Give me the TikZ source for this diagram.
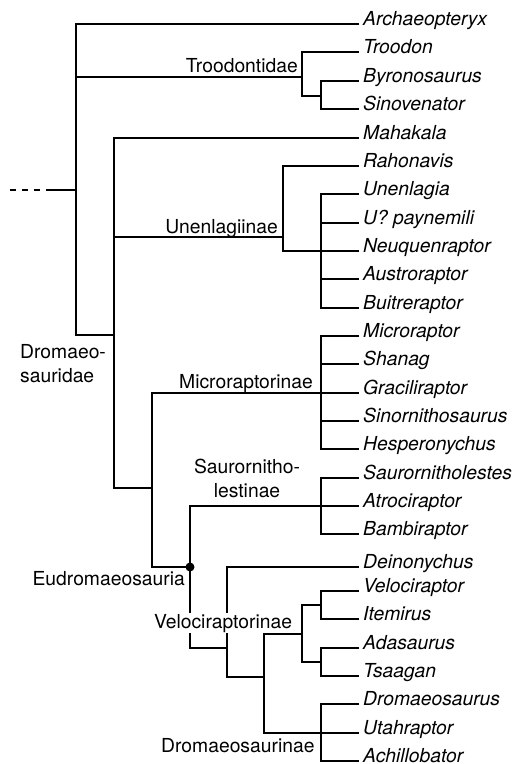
\documentclass[tikz,border=0pt]{standalone}
\usepackage{fontspec}
\setmainfont{TeX Gyre Heros}
\newcommand\fz{\fontsize{19.3pt}{24pt}\selectfont}
\begin{document}
\begin{tikzpicture}[x=1pt,y=-1pt,
  branch/.style={line width=1.7pt, black},
  leaflabel/.style={anchor=base west, inner sep=0pt, text depth=0pt, font=\fz\itshape},
  cladelabel/.style={inner sep=0pt, font=\fz},
  cladebox/.style={inner xsep=1pt, inner ysep=1.2pt, font=\fz, fill=white}]
\useasboundingbox (0,0) rectangle (516,764);
% leaves: tips and labels
\foreach \n/\y/\t in {
  Arch/24/Archaeopteryx, Troo/52/Troodon, Byro/81/Byronosaurus, Sino/109/Sinovenator,
  Maha/138/Mahakala, Raho/166/Rahonavis, Unen/194/Unenlagia, Payn/223/U? paynemili,
  Neuq/251/Neuquenraptor, Aust/279/Austroraptor, Buit/308/Buitreraptor,
  Micr/336/Microraptor, Shan/364/Shanag, Grac/393/Graciliraptor, Sinr/421/Sinornithosaurus,
  Hesp/449/Hesperonychus, Saur/478/Saurornitholestes, Atro/506/Atrociraptor,
  Bamb/534/Bambiraptor, Dein/567/Deinonychus, Velo/591/Velociraptor, Item/619/Itemirus,
  Adas/648/Adasaurus, Tsaa/676/Tsaagan, Drom/704/Dromaeosaurus, Utah/733/Utahraptor,
  Achi/761/Achillobator}{
  \coordinate (t\n) at (359,\y);
  \node[leaflabel] (\n) at (363,\y+1) {\t};
}
% internal nodes
\coordinate (stemA) at (10,190);
\coordinate (stemB) at (40,190);
\coordinate (stemC) at (46,190);
\coordinate (r) at (76,190);
\coordinate (tro) at (302,77);
\coordinate (bs) at (321,96);
\coordinate (dro) at (114,335);
\coordinate (unen) at (283,237);
\coordinate (unp) at (321,251);
\coordinate (eum) at (152,488);
\coordinate (mic) at (321,393);
\coordinate (eud) at (190,567);
\coordinate (sau) at (321,506);
\coordinate (dv) at (227,648);
\coordinate (vdr) at (264,677);
\coordinate (vel) at (302,634);
\coordinate (vi) at (321,605);
\coordinate (at) at (321,662);
\coordinate (drm) at (321,733);
% stem
\draw[branch, dash pattern=on 6pt off 6pt] (stemA) -- (stemB);
\draw[branch] (stemC) -- (r);
% root
\draw[branch] (tArch) -| (r) |- (dro);
\draw[branch] (r) |- (tro);
% Troodontidae
\draw[branch] (tTroo) -| (tro) |- (bs);
\draw[branch] (tByro) -| (bs) |- (tSino);
% Dromaeosauridae
\draw[branch] (tMaha) -| (dro) |- (eum);
\draw[branch] (dro) |- (unen);
% Unenlagiinae
\draw[branch] (tRaho) -| (unen) |- (unp);
\draw[branch] (tUnen) -| (unp) |- (tBuit);
\draw[branch] (unp |- tPayn) -- (tPayn);
\draw[branch] (unp) -- (tNeuq);
\draw[branch] (unp |- tAust) -- (tAust);
% Microraptorinae + Eudromaeosauria
\draw[branch] (mic) -| (eum) |- (eud);
\draw[branch] (tMicr) -| (mic) |- (tHesp);
\draw[branch] (mic |- tShan) -- (tShan);
\draw[branch] (mic) -- (tGrac);
\draw[branch] (mic |- tSinr) -- (tSinr);
% Eudromaeosauria
\draw[branch] (sau) -| (eud) |- (dv);
\draw[branch] (tSaur) -| (sau) |- (tBamb);
\draw[branch] (sau) -- (tAtro);
\draw[branch] (tDein) -| (dv) |- (vdr);
\draw[branch] (vel) -| (vdr) |- (drm);
\draw[branch] (vi) -| (vel) |- (at);
\draw[branch] (tVelo) -| (vi) |- (tItem);
\draw[branch] (tAdas) -| (at) |- (tTsaa);
\draw[branch] (tDrom) -| (drm) |- (tAchi);
\draw[branch] (drm) -- (tUtah);
\fill (eud) circle (4.5pt);
% clade labels
\node[cladelabel, anchor=base east] (lTro) at (298,72) {Troodontidae};
\node[cladelabel, anchor=base east] (lUne) at (278,233) {Unenlagiinae};
\node[cladelabel, anchor=base west, align=left] (lDro) at (20,382) {Dromaeo-\\sauridae};
\node[cladelabel, anchor=base east] (lMic) at (313,388) {Microraptorinae};
\node[cladelabel, anchor=base, align=center] (lSau) at (247,497) {Saurornitho-\\lestinae};
\node[cladelabel, anchor=base east] (lEud) at (185,585) {Eudromaeosauria};
\node[cladebox, anchor=base] (lVel) at (223,628) {Velociraptorinae};
\node[cladelabel, anchor=base west] (lDrm) at (161,752) {Dromaeosaurinae};
\end{tikzpicture}
\end{document}
